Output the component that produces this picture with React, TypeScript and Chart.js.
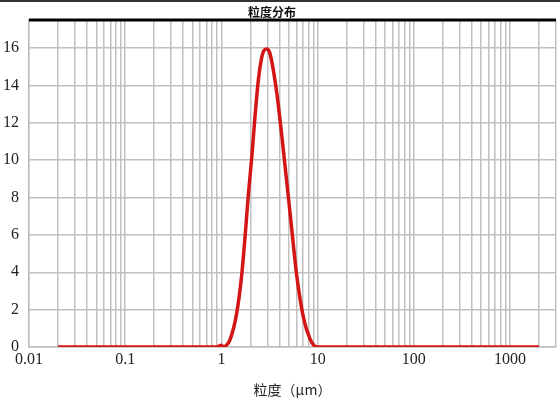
import React, { useEffect, useRef } from "react";
import { Chart, registerables } from "chart.js";

Chart.register(...registerables);

// particle size (μm) and volume (%)
const sizes = [0.02, 0.05, 0.1, 0.2, 0.5, 0.9, 1.0, 1.05, 1.1, 1.23, 1.44, 1.62, 1.76, 1.9, 2.07, 2.23, 2.42, 2.6, 2.75, 2.96, 3.15, 3.33, 3.76, 4.24, 4.78, 5.38, 6.07, 7.1, 8.3, 9.3, 10, 20, 100, 500, 1000, 2000];
const volume = [0, 0, 0, 0, 0, 0, 0.1, 0, 0.05, 0.4, 1.8, 3.8, 5.9, 8.1, 10.2, 12.3, 14.3, 15.4, 15.85, 15.95, 15.8, 15.3, 13.6, 11.3, 8.8, 6.3, 3.8, 1.6, 0.45, 0.05, 0, 0, 0, 0, 0, 0];
const yTicks = [0, 2, 4, 6, 8, 10, 12, 14, 16];
const xDecades = [0.01, 0.1, 1, 10, 100, 1000];
const xDecadeLabels = ["0.01", "0.1", "1", "10", "100", "1000"];
const titleText = "粒度分布";
const xTitle = "粒度（μm）";

const X_MIN = 0.01;
const X_MAX = 3000;
const Y_MAX = 17.5;

function buildMinorTicks(): number[] {
  const out: number[] = [];
  for (let e = -2; e <= 3; e++) {
    for (let m = 1; m <= 9; m++) {
      const v = Number((m * Math.pow(10, e)).toPrecision(6));
      if (v >= X_MIN && v <= X_MAX) out.push(v);
    }
  }
  return out;
}

const deco = {
  id: "deco",
  beforeDraw(chart: any) {
    const { ctx, width, height } = chart;
    ctx.save();
    ctx.fillStyle = "#ffffff";
    ctx.fillRect(0, 0, width, height);
    ctx.restore();
  },
  afterDraw(chart: any) {
    const { ctx, chartArea } = chart;
    ctx.save();
    // thick black top border of plot
    ctx.strokeStyle = "#000";
    ctx.lineWidth = 3;
    ctx.beginPath();
    ctx.moveTo(chartArea.left, chartArea.top);
    ctx.lineTo(chartArea.right, chartArea.top);
    ctx.stroke();
    // outer image top edge
    ctx.strokeStyle = "#333";
    ctx.lineWidth = 2;
    ctx.beginPath();
    ctx.moveTo(0, 1);
    ctx.lineTo(chart.width, 1);
    ctx.stroke();
    // title
    ctx.fillStyle = "#111";
    ctx.textAlign = "center";
    ctx.textBaseline = "middle";
    ctx.font = 'bold 12px "Noto Sans CJK SC"';
    ctx.fillText(titleText, 272, 12);
    // x title
    ctx.fillStyle = "#222";
    ctx.font = '14px "Noto Sans CJK SC"';
    ctx.fillText(xTitle, (chartArea.left + chartArea.right) / 2, 390);
    ctx.restore();
  },
};

export default function App() {
  const ref = useRef<HTMLCanvasElement | null>(null);

  useEffect(() => {
    if (!ref.current) return;
    const minor = buildMinorTicks();
    const chart = new Chart(ref.current, {
      type: "line",
      data: {
        datasets: [
          {
            data: sizes.map((s, i) => ({ x: s, y: volume[i] })),
            borderColor: "#d41515",
            borderWidth: 3.5,
            pointRadius: 0,
            cubicInterpolationMode: "monotone",
            fill: false,
          },
        ],
      },
      options: {
        animation: false,
        responsive: false,
        maintainAspectRatio: false,
        layout: { padding: { left: 0, right: 4, top: 20, bottom: 0 } },
        plugins: { legend: { display: false }, title: { display: false }, tooltip: { enabled: false } },
        scales: {
          x: {
            type: "logarithmic",
            min: X_MIN,
            max: X_MAX,
            afterBuildTicks: (scale: any) => {
              scale.ticks = minor.map((v) => ({ value: v }));
            },
            afterFit: (scale: any) => {
              scale.height = 53;
            },
            ticks: {
              autoSkip: false,
              maxRotation: 0,
              padding: 3,
              color: "#222",
              font: { family: '"Liberation Serif"', size: 16 },
              callback: (value: any) => {
                const v = Number(value);
                const idx = xDecades.findIndex((d) => Math.abs(d - v) / d < 1e-6);
                return idx >= 0 ? xDecadeLabels[idx] : "";
              },
            },
            grid: { color: "#c0c0c0", lineWidth: 1.5, drawTicks: false },
            border: { display: true, color: "#bdbdbd", width: 1.5 },
          },
          y: {
            type: "linear",
            min: 0,
            max: Y_MAX,
            afterBuildTicks: (scale: any) => {
              scale.ticks = yTicks.map((v) => ({ value: v }));
            },
            afterFit: (scale: any) => {
              scale.width = 29;
            },
            ticks: {
              padding: 10,
              color: "#222",
              font: { family: '"Liberation Serif"', size: 16 },
            },
            grid: { color: "#c0c0c0", lineWidth: 1.5, drawTicks: false },
            border: { display: true, color: "#bdbdbd", width: 1.5 },
          },
        },
      },
      plugins: [deco],
    } as any);
    return () => chart.destroy();
  }, []);

  return (
    <div style={{ position: "fixed", left: 0, top: 0, width: 560, height: 400, background: "#fff" }}>
      <canvas ref={ref} width={560} height={400} style={{ width: 560, height: 400, display: "block" }} />
    </div>
  );
}
